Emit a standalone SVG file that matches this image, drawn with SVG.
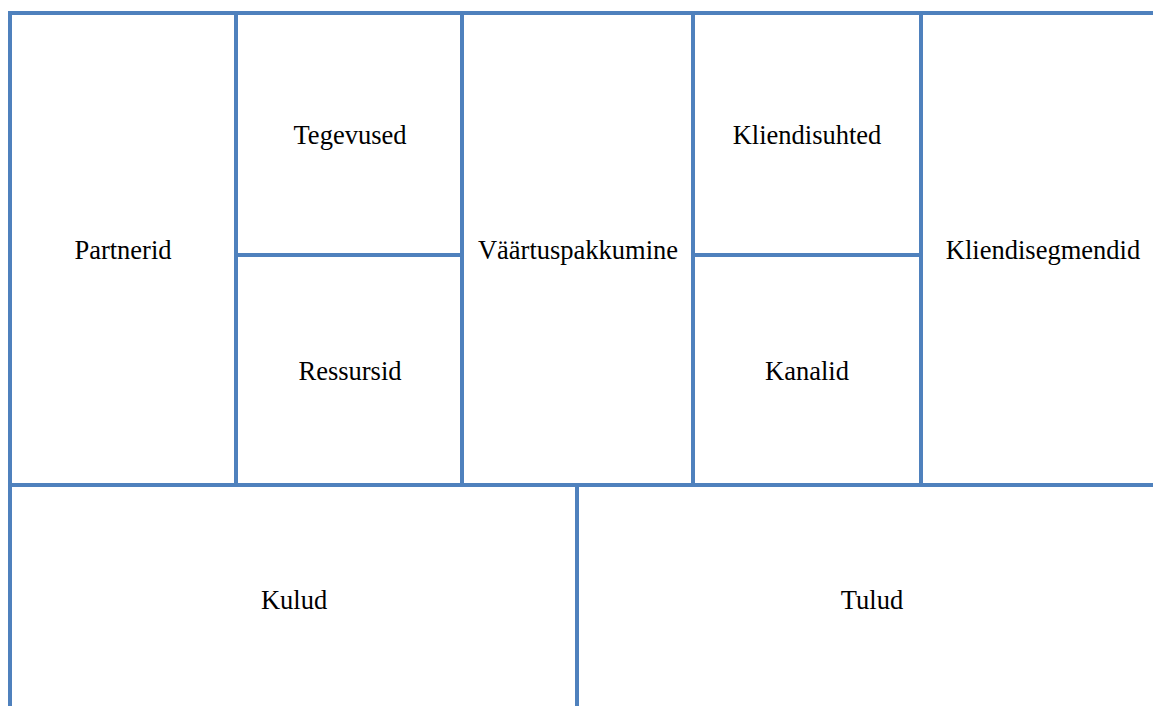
<svg xmlns="http://www.w3.org/2000/svg" width="1153" height="706" viewBox="0 0 1153 706">
<style>
.ln{stroke:#4f81bd;stroke-width:4;fill:none;stroke-linecap:butt}
.t{font-family:"Liberation Serif","Times New Roman",serif;font-size:26.5px;fill:#000;text-anchor:middle}
</style>
<rect width="1153" height="706" fill="#fff"/>
<g id="connectors">
<path class="ln" d="M8 13H1153M10 11V706M8 485H1153M236 13V485M462 13V485M693 13V485M921 13V485M577 485V706M236 255H462M693 255H921"/>
</g>
<g id="partnerid"><text class="t" x="123" y="259">Partnerid</text></g>
<g id="tegevused"><text class="t" x="350" y="144">Tegevused</text></g>
<g id="ressursid"><text class="t" x="350" y="380">Ressursid</text></g>
<g id="vaartuspakkumine"><text class="t" x="578" y="259">Väärtuspakkumine</text></g>
<g id="kliendisuhted"><text class="t" x="807" y="144">Kliendisuhted</text></g>
<g id="kanalid"><text class="t" x="807" y="380">Kanalid</text></g>
<g id="kliendisegmendid"><text class="t" x="1043" y="259">Kliendisegmendid</text></g>
<g id="kulud"><text class="t" x="294" y="609">Kulud</text></g>
<g id="tulud"><text class="t" x="872" y="609">Tulud</text></g>
</svg>
